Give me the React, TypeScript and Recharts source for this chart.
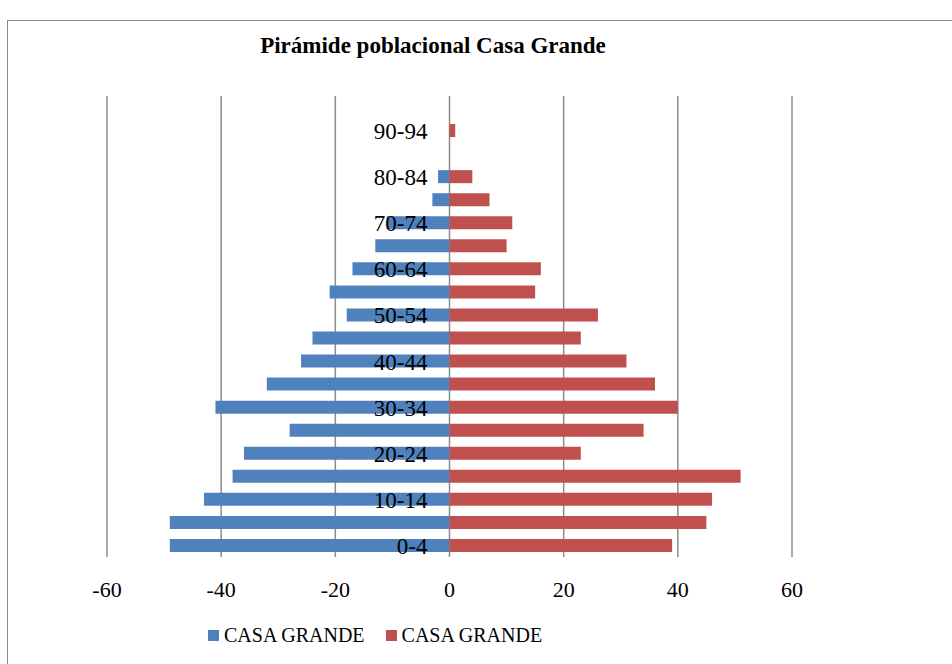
import { BarChart, Bar, XAxis, YAxis, CartesianGrid } from "recharts";

const grupos = [
  "0-4", "5-9", "10-14", "15-19", "20-24", "25-29", "30-34", "35-39", "40-44", "45-49",
  "50-54", "55-59", "60-64", "65-69", "70-74", "75-79", "80-84", "85-89", "90-94", "95-99",
];
const hombres = [-49, -49, -43, -38, -36, -28, -41, -32, -26, -24, -18, -21, -17, -13, -11, -3, -2, 0, 0, 0];
const mujeres = [39, 45, 46, 51, 23, 34, 40, 36, 31, 23, 26, 15, 16, 10, 11, 7, 4, 0, 1, 0];
const ticksX = [-60, -40, -20, 0, 20, 40, 60];
const series = [
  { key: "hombres", name: "CASA GRANDE", color: "#4F81BD" },
  { key: "mujeres", name: "CASA GRANDE", color: "#C0504D" },
];
const titulo = "Pirámide poblacional Casa Grande";

const data = grupos.map((g, i) => ({ grupo: g, hombres: hombres[i], mujeres: mujeres[i] }));

const W = 952;
const H = 664;
const margin = { top: 96, right: 160, bottom: 57, left: 106 };
const font = "'Liberation Serif', 'DejaVu Serif', serif";
const plotLeft = margin.left + 1;
const zeroX = plotLeft + (W - plotLeft - margin.right) / 2;

const renderCategoryTick = (props: any) => {
  const { y, payload } = props;
  return (
    <text x={zeroX - 22} y={y + 1} textAnchor="end" dominantBaseline="central" fontFamily={font} fontSize={23} fill="#000">
      {payload.value}
    </text>
  );
};

export default function App() {
  return (
    <div style={{ position: "fixed", left: 0, top: 0, width: W, height: H, overflow: "hidden", background: "#fff" }}>
      <div style={{ position: "absolute", left: 7, top: 20, width: 1000, height: 700, border: "1.5px solid #8a8a8a" }} />
      <div
        style={{
          position: "absolute", left: 0, top: 33, width: 866, textAlign: "center",
          fontFamily: font, fontWeight: "bold", fontSize: 23, color: "#000",
        }}
      >
        {titulo}
      </div>
      <div style={{ position: "absolute", left: 0, top: 0 }}>
        <BarChart width={W} height={H} data={data} layout="vertical" stackOffset="sign" margin={margin}>
          <CartesianGrid horizontal={false} stroke="#8c8c8c" strokeWidth={1.5} />
          <XAxis
            type="number"
            domain={[-60, 60]}
            ticks={ticksX}
            axisLine={false}
            tickLine={false}
            tickMargin={18}
            height={50}
            tick={{ fontFamily: font, fontSize: 22, fill: "#000" }}
          />
          {series.map((s) => (
            <Bar key={s.key} dataKey={s.key} name={s.name} fill={s.color} stackId="p" barSize={13} isAnimationActive={false} />
          ))}
          <YAxis
            type="category"
            dataKey="grupo"
            reversed
            interval={1}
            width={1}
            axisLine={false}
            tickLine={false}
            tick={renderCategoryTick}
          />
        </BarChart>
      </div>
      <div style={{ position: "absolute", left: 208, top: 624, display: "flex", alignItems: "center", fontFamily: font, fontSize: 20, color: "#000" }}>
        {series.map((s) => (
          <div key={s.key} style={{ display: "flex", alignItems: "center", marginRight: 21 }}>
            <span style={{ width: 11, height: 11, background: s.color, display: "inline-block", marginRight: 5 }} />
            <span>{s.name}</span>
          </div>
        ))}
      </div>
    </div>
  );
}
